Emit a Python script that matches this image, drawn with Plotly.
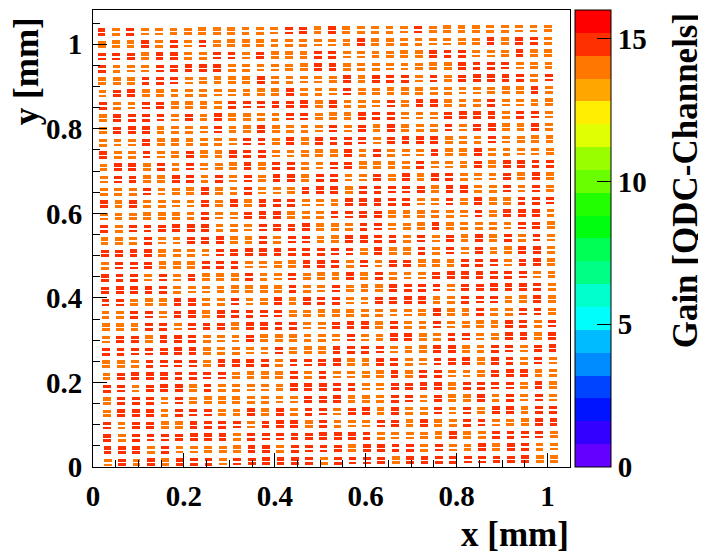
import colorsys

import numpy as np
import plotly.graph_objects as go

# Gain per SiPM pixel cell, top row first.
# r = red-orange band (14.4-15.2), o = orange band (13.6-14.4)
GAIN_ROWS = [
    "rorooooo ooooorro roooooro oooooooo",
    "ooororor oooooooo oorooooo ooororro",
    "rrrorroo rrorooor roooooor rroooroo",
    "rooorrrr roooooor rooooooo orrrrooo",
    "ooorrroo oooroooo ororrror orrrrror",
    "orrooooo oooooroo oroooooo ooooooro",
    "roorrooo orrrrrro rooororr oooroooo",
    "orrrroro roooorro oorrrooo rrrrorro",
    "orrroooo rooroooo rororooo rorrooro",
    "oooroooo oorroror rrrorrrr oooroooo",
    "roorooro orrroooo ororooor oorooooo",
    "orrororo oororroo rrooooro oororrrr",
    "orroorro rororror roororor rooororo",
    "ooorooor oorooorr rorrrrro rroororo",
    "roroooor ororrroo orrrrroo roroorrr",
    "ooooooor oorrrooo rrrroooo oororrro",
    "rorrrrrr ooorrrro oorrooor ooooorro",
    "oooroorr roororro orrrroro rorororo",
    "rrrroooo rrrrrrrr rrorooro roroorro",
    "orrrooor rroooorr rororroo orrrorro",
    "rrrororo oorooroo ororooor rrrrrroo",
    "rrrrrooo oooooroo rooorrrr orrrrrro",
    "rrooorro oroororr roorrrro orrrooro",
    "oorrorro rrrrrooo ooooooor ooroorro",
    "ooorrorr rorrrroo rrroroor oooorror",
    "orrorrro oorooooo oroorroo rroorror",
    "rrrrrrro oooorooo rrrrooor roorrorr",
    "ooorrrro rrrrorrr roorroor rrorroro",
    "orrrrrrr rooooror oooororr ooorrroo",
    "rrorrror ooooorrr rroorrrr orrrroro",
    "orrroroo oooooorr rooorror oorororo",
    "orrrorrr oorororr orroroor ororrorr",
    "rorroorr rrorrror ooorroro orrooorr",
    "rorrrrrr rorrrrrr rrrooooo roorrrro",
    "rrrorooo oorrorrr rorrrror oororroo",
    "orororrr orrrrrro rrrrorrr rrrrrroo",
]
BAND_VALUES = {"r": 14.8, "o": 14.0}

N_ROWS, N_COLS = 36, 32

# pixel-cell grid in mm (slightly rotated on the sensor)
ORIGIN = (0.0323, 0.0111)        # centre of bottom-left cell
COL_STEP = (0.03168, 0.000274)
ROW_STEP = (-0.000383, 0.02910)
HALF_W = 0.00858
TOP_BAR = (0.00106, 0.00900)
BOT_BAR = (-0.00900, -0.00248)

X_MAX, Y_MAX = 1.0495, 1.0811
NX, NY = 477, 914                # fine histogram binning

Z_MIN, Z_MAX, N_CONT = 0, 16, 20
FONT = "Liberation Serif"


def root_palette_color(k):
    # ROOT "pretty" palette (50 HLS colours), picked for 20 contours
    idx = int((k + 0.99) * 50 / N_CONT)
    hue = 0.0 if idx >= 49 else 280 - (idx + 1) * 5.6
    r, g, b = colorsys.hls_to_rgb(hue / 360, 0.5, 1.0)
    return f"rgb({round(r * 255)},{round(g * 255)},{round(b * 255)})"


def main():
    rows = [r.replace(" ", "") for r in GAIN_ROWS]
    assert all(len(r) == N_COLS for r in rows)
    gain = np.array([[BAND_VALUES[c] for c in r] for r in rows])[::-1]

    dx, dy = X_MAX / NX, Y_MAX / NY
    X, Y = np.meshgrid((np.arange(NX) + 0.5) * dx, (np.arange(NY) + 0.5) * dy)
    minv = np.linalg.inv(np.array([COL_STEP, ROW_STEP]).T)
    dX, dY = X - ORIGIN[0], Y - ORIGIN[1]
    ia = np.rint(minv[0, 0] * dX + minv[0, 1] * dY).astype(int)
    ib = np.rint(minv[1, 0] * dX + minv[1, 1] * dY).astype(int)
    lx = dX - ia * COL_STEP[0] - ib * ROW_STEP[0]
    ly = dY - ia * COL_STEP[1] - ib * ROW_STEP[1]
    in_bar = ((ly >= TOP_BAR[0]) & (ly <= TOP_BAR[1])) | ((ly >= BOT_BAR[0]) & (ly <= BOT_BAR[1]))
    inside = (ia >= 0) & (ia < N_COLS) & (ib >= 0) & (ib < N_ROWS) & (np.abs(lx) <= HALF_W) & in_bar

    z = np.full(X.shape, np.nan, dtype=np.float32)
    z[inside] = gain[ib[inside], ia[inside]]

    colorscale = []
    for k in range(N_CONT):
        c = root_palette_color(k)
        colorscale += [[k / N_CONT, c], [(k + 1) / N_CONT, c]]

    tick_font = {"family": FONT, "size": 29, "color": "black", "weight": "bold"}
    title_font = {"family": FONT, "size": 35, "color": "black", "weight": "bold"}

    fig = go.Figure(go.Heatmap(
        z=z, x0=dx / 2, dx=dx, y0=dy / 2, dy=dy,
        zmin=Z_MIN, zmax=Z_MAX, colorscale=colorscale, zsmooth=False,
        hoverinfo="skip",
        colorbar={
            "thickness": 36, "len": 1, "lenmode": "fraction",
            "x": 482 / 477, "xanchor": "left", "xpad": 0,
            "y": 0.5, "yanchor": "middle", "ypad": 0,
            "outlinewidth": 1, "outlinecolor": "black",
            "tickvals": [0, 5, 10, 15], "ticks": "inside", "ticklen": 14,
            "tickcolor": "black", "tickfont": tick_font,
        },
    ))

    axis = {
        "showline": True, "linecolor": "black", "linewidth": 1, "mirror": True,
        "ticks": "inside", "ticklen": 14, "tickcolor": "black",
        "showgrid": False, "zeroline": False, "tickfont": tick_font,
        "tick0": 0, "dtick": 0.2,
        "minor": {"dtick": 0.05, "ticks": "inside", "ticklen": 7,
                  "tickcolor": "black", "showgrid": False},
    }
    fig.update_xaxes(range=[0, X_MAX], ticklabelstandoff=3, **axis)
    fig.update_yaxes(range=[0, Y_MAX], ticklabelstandoff=4, **axis)

    fig.add_annotation(text="x [mm]", xref="paper", yref="paper", x=1.003, y=-0.148,
                       xanchor="right", yanchor="middle", showarrow=False, font=title_font)
    fig.add_annotation(text="y [mm]", xref="paper", yref="paper", x=-0.139, y=0.988,
                       xanchor="center", yanchor="top", textangle=-90,
                       showarrow=False, font=title_font)
    fig.add_annotation(text="Gain [QDC-Channels]", xref="paper", yref="paper",
                       x=1.243, y=0.998, xanchor="center", yanchor="top", textangle=-90,
                       showarrow=False, font=title_font)

    # the page body adds 8 px around the plot div, so the figure is 8 px smaller
    fig.update_layout(
        width=698, height=546,
        margin={"l": 85, "r": 136, "t": 2, "b": 87, "autoexpand": False},
        paper_bgcolor="white", plot_bgcolor="white",
        showlegend=False,
    )
    fig.write_html("out.html")


if __name__ == "__main__":
    main()
